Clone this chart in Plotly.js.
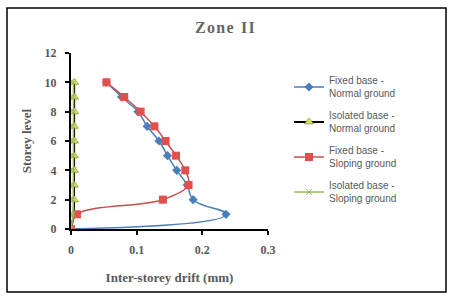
<!DOCTYPE html>
<html><head><meta charset="utf-8">
<script src="https://cdn.plot.ly/plotly-3.0.1.min.js"></script>
<style>html,body{margin:0;padding:0;background:#fff;}#chart{width:462px;height:297px;}</style>
</head><body><div id="chart"></div>
<script>
const storeys = [0,1,2,3,4,5,6,7,8,9,10];
const fixedNormal = [0,0.236,0.186,0.177,0.161,0.147,0.134,0.116,0.102,0.077,0.054];
const isolatedNormal = [0,0.004,0.0045,0.0045,0.0047,0.0047,0.0047,0.0047,0.0048,0.0048,0.0048];
const fixedSloping = [0,0.009,0.140,0.179,0.174,0.160,0.144,0.127,0.106,0.081,0.054];
const isolatedSloping = [0,0.003,0.0035,0.0035,0.0037,0.0037,0.0037,0.0037,0.0038,0.0038,0.0038];
const names = ['Fixed base -<br>Normal ground','Isolated base -<br>Normal ground','Fixed base -<br>Sloping ground','Isolated base -<br>Sloping ground'];
const xTicks = [0,0.1,0.2,0.3];
const yTicks = [0,2,4,6,8,10,12];

const serif = {family:'Liberation Serif, serif', size:12, color:'#595959'};
const traces = [
 {x:fixedNormal, y:storeys, name:names[0], legendgroup:'a', mode:'lines+markers', line:{color:'#4a7ebb',width:1.5,shape:'spline',smoothing:1.3}, marker:{symbol:'diamond',size:7,color:'#4a7ebb'}},
 {x:isolatedNormal, y:storeys, name:names[1], legendgroup:'b', mode:'lines+markers', line:{color:'#000000',width:2,shape:'spline'}, marker:{symbol:'triangle-up',size:8,color:'#d9e05a',line:{color:'#6b6b1f',width:0.5}}},
 {x:fixedSloping, y:storeys, name:names[2], legendgroup:'c', mode:'lines+markers', line:{color:'#c0504d',width:1.5,shape:'spline'}, marker:{symbol:'square',size:8,color:'#e0504d'}},
 {x:isolatedSloping, y:storeys, name:names[3], legendgroup:'d', mode:'lines+markers', line:{color:'#9bbb59',width:1.5,shape:'spline'}, marker:{symbol:'x-thin',size:6,color:'#9bbb59',line:{color:'#9bbb59',width:1}}}
];
const layout = {
 width:462, height:297,
 margin:{l:71,r:194,t:53,b:68,pad:0},
 paper_bgcolor:'#fff', plot_bgcolor:'#fff',
 showlegend:true,
 legend:{x:(289-71)/197,y:0.918,xanchor:'left',yanchor:'top',font:{family:'Liberation Sans, Arial, sans-serif',size:10,color:'#595959'},bgcolor:'rgba(0,0,0,0)',tracegroupgap:6,itemwidth:30},
 xaxis:{range:[0,0.3],tickvals:xTicks,ticktext:xTicks.map(v=>'<b>'+v+'</b>'),showgrid:false,zeroline:false,showline:true,linecolor:'#000',linewidth:2,ticks:'outside',ticklen:4,tickcolor:'#000',tickwidth:2,tickfont:serif,ticklabelstandoff:5,
  title:{text:'<b>Inter-storey drift (mm)</b>',font:{family:'Liberation Serif, serif',size:13,color:'#595959'},standoff:16}},
 yaxis:{range:[0,12],tickvals:yTicks,ticktext:yTicks.map(v=>'<b>'+v+'</b>'),showgrid:false,zeroline:false,showline:true,linecolor:'#000',linewidth:2,ticks:'outside',ticklen:4,tickcolor:'#000',tickwidth:2,tickfont:serif,ticklabelstandoff:6,
  title:{text:'<b>Storey level</b>',font:{family:'Liberation Serif, serif',size:13,color:'#595959'},standoff:10}},
 annotations:[{text:'<b>Z\u200Ao\u200An\u200Ae\u2009 I\u200AI</b>',xref:'paper',yref:'paper',x:(225-71)/197,y:(229-27)/176,xanchor:'center',yanchor:'middle',showarrow:false,font:{family:'Liberation Serif, serif',size:16,color:'#666666'}}],
 shapes:[{type:'rect',xref:'paper',yref:'paper',x0:(7-71)/197,x1:(446-71)/197,y0:(229-292)/176,y1:(229-8)/176,line:{color:'#000',width:1.5},layer:'above'}]
};
Plotly.newPlot('chart', traces, layout, {staticPlot:true, displayModeBar:false});
</script></body></html>
